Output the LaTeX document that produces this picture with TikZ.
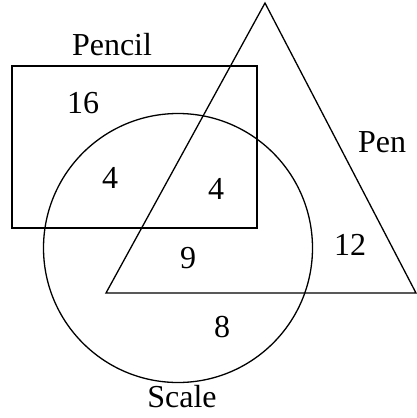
\documentclass[tikz,border=0pt]{standalone}
\usepackage{fontspec}
\setmainfont{Liberation Serif}
\begin{document}
\begin{tikzpicture}[x=1pt,y=-1pt,
  lbl/.style={font=\fontsize{32}{32}\selectfont, inner sep=0pt, anchor=center},
  setline/.style={draw=black, line width=1.3pt}]
\useasboundingbox (0,0) rectangle (417,418);
% Pencil rectangle
\draw[setline, line width=1.7pt] (12,66) rectangle (257,228);
% Pen triangle
\draw[setline, line join=miter] (265,3) -- (416,293) -- (106,293) -- cycle;
% Scale circle
\draw[setline] (178,248) circle (134.5);
% labels
\node[lbl] (pencil) at (112,45) {Pencil};
\node[lbl] (pen) at (382,142) {Pen};
\node[lbl] (scale) at (182,397) {Scale};
\node[lbl] (n16) at (83,103) {16};
\node[lbl] (n4a) at (110,178) {4};
\node[lbl] (n4b) at (216,189) {4};
\node[lbl] (n9) at (188,258) {9};
\node[lbl] (n12) at (350,245) {12};
\node[lbl] (n8) at (222,327) {8};
\end{tikzpicture}
\end{document}
